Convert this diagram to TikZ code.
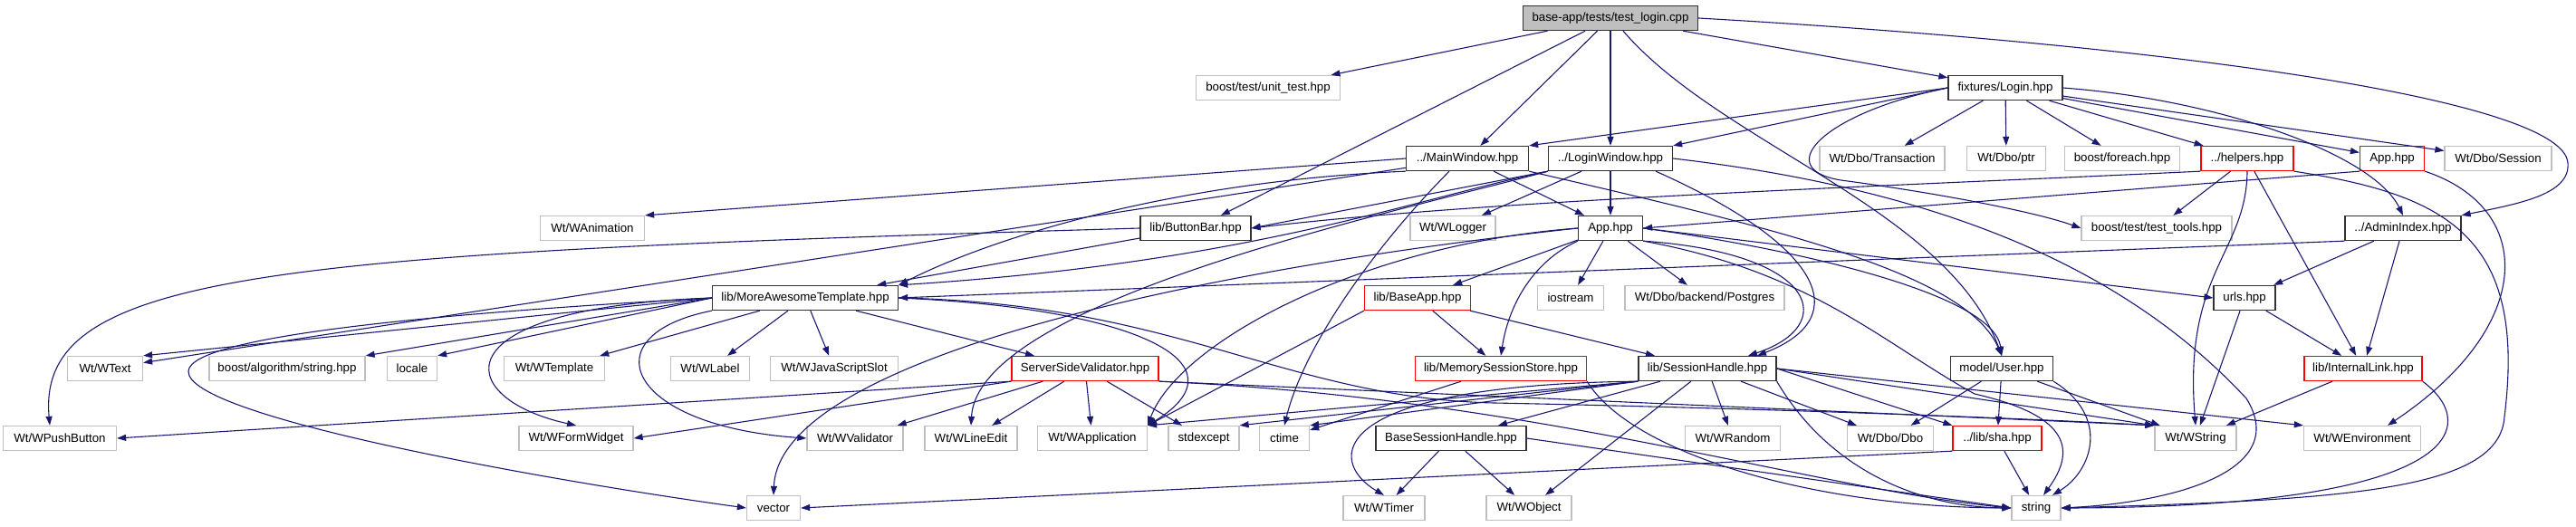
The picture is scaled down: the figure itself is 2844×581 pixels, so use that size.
\documentclass[tikz,border=0pt]{standalone}
\usepackage{fontspec}
\setmainfont{Liberation Sans}
\usetikzlibrary{arrows.meta}
\definecolor{navyline}{RGB}{25,25,112}
\definecolor{boxgrey}{RGB}{191,191,191}
\definecolor{darkbox}{RGB}{50,50,50}
\begin{document}
\begin{tikzpicture}[
x=1pt, y=-1pt,
box/.style={rectangle, draw, line width=1.3pt, minimum height=27pt, inner xsep=6pt, inner ysep=0pt, font=\fontsize{13.3}{15}\selectfont},
hdr/.style={box, draw=darkbox},
sys/.style={box, draw=boxgrey},
trunc/.style={box, draw=red},
rootfile/.style={box, draw=darkbox, fill=boxgrey},
dep/.style={draw=navyline, line width=1.1pt, -{Triangle[length=10pt,width=7pt]}}
]
\useasboundingbox (0,0) rectangle (2844,581);
% rows of the include graph
\node[rootfile, minimum width=193pt] (root) at (1778,20) {base-app/tests/test\_login.cpp};
\node[sys, minimum width=159pt] (unittest) at (1400,97) {boost/test/unit\_test.hpp};
\node[hdr, minimum width=126pt] (login) at (2214,97) {fixtures/Login.hpp};
\node[hdr, minimum width=135pt] (mainwin) at (1620,175) {../MainWindow.hpp};
\node[hdr, minimum width=137pt] (loginwin) at (1778,175) {../LoginWindow.hpp};
\node[sys, minimum width=138pt] (trans) at (2078,175) {Wt/Dbo/Transaction};
\node[sys, minimum width=87pt] (dboptr) at (2215,175) {Wt/Dbo/ptr};
\node[sys, minimum width=127pt] (foreach) at (2343,175) {boost/foreach.hpp};
\node[trunc, minimum width=102pt] (helpers) at (2481,175) {../helpers.hpp};
\node[trunc, minimum width=71pt] (appred) at (2641,175) {App.hpp};
\node[sys, minimum width=118pt] (dbosession) at (2758,175) {Wt/Dbo/Session};
\node[sys, minimum width=115pt] (wanim) at (654,252) {Wt/WAnimation};
\node[hdr, minimum width=122pt] (buttonbar) at (1320,252) {lib/ButtonBar.hpp};
\node[sys, minimum width=94pt] (wlogger) at (1604,252) {Wt/WLogger};
\node[hdr, minimum width=71pt] (app) at (1778,252) {App.hpp};
\node[sys, minimum width=166pt] (testtools) at (2381,252) {boost/test/test\_tools.hpp};
\node[hdr, minimum width=128pt] (adminidx) at (2653,252) {../AdminIndex.hpp};
\node[hdr, minimum width=205pt] (mat) at (889,329) {lib/MoreAwesomeTemplate.hpp};
\node[trunc, minimum width=117pt] (baseapp) at (1565,329) {lib/BaseApp.hpp};
\node[sys, minimum width=73pt] (iostream) at (1734,329) {iostream};
\node[sys, minimum width=176pt] (postgres) at (1882,329) {Wt/Dbo/backend/Postgres};
\node[hdr, minimum width=68pt] (urls) at (2478,329) {urls.hpp};
\node[sys, minimum width=83pt] (wtext) at (116,407) {Wt/WText};
\node[sys, minimum width=172pt] (algostr) at (317,407) {boost/algorithm/string.hpp};
\node[sys, minimum width=55pt] (locale) at (455,407) {locale};
\node[sys, minimum width=111pt] (wtemplate) at (612,407) {Wt/WTemplate};
\node[sys, minimum width=87pt] (wlabel) at (784,407) {Wt/WLabel};
\node[sys, minimum width=141pt] (wjsslot) at (921,407) {Wt/WJavaScriptSlot};
\node[trunc, minimum width=162pt] (ssv) at (1198,407) {ServerSideValidator.hpp};
\node[trunc, minimum width=189pt] (memstore) at (1657,407) {lib/MemorySessionStore.hpp};
\node[hdr, minimum width=152pt] (sesshandle) at (1885,407) {lib/SessionHandle.hpp};
\node[hdr, minimum width=113pt] (user) at (2210,407) {model/User.hpp};
\node[trunc, minimum width=130pt] (internallink) at (2609,407) {lib/InternalLink.hpp};
\node[sys, minimum width=125pt] (pushbtn) at (66,484) {Wt/WPushButton};
\node[sys, minimum width=126pt] (formwidget) at (636,484) {Wt/WFormWidget};
\node[sys, minimum width=106pt] (wvalidator) at (944,484) {Wt/WValidator};
\node[sys, minimum width=102pt] (lineedit) at (1072,484) {Wt/WLineEdit};
\node[sys, minimum width=121pt] (wapp) at (1206,484) {Wt/WApplication};
\node[sys, minimum width=78pt] (stdexcept) at (1329,484) {stdexcept};
\node[sys, minimum width=55pt] (ctime) at (1418,484) {ctime};
\node[hdr, minimum width=166pt] (basesess) at (1602,484) {BaseSessionHandle.hpp};
\node[sys, minimum width=105pt] (wrandom) at (1913,484) {Wt/WRandom};
\node[sys, minimum width=95pt] (dbodbo) at (2087,484) {Wt/Dbo/Dbo};
\node[trunc, minimum width=98pt] (sha) at (2205,484) {../lib/sha.hpp};
\node[sys, minimum width=90pt] (wstring) at (2424,484) {Wt/WString};
\node[sys, minimum width=129pt] (wenv) at (2608,484) {Wt/WEnvironment};
\node[sys, minimum width=59pt] (vector) at (854,561) {vector};
\node[sys, minimum width=90pt] (wtimer) at (1528,561) {Wt/WTimer};
\node[sys, minimum width=94pt] (wobject) at (1688,561) {Wt/WObject};
\node[sys, minimum width=54pt] (string) at (2248,561) {string};

% test_login.cpp
\draw[dep] (root) -- (unittest);
\draw[dep] (root) -- (buttonbar);
\draw[dep] (root) -- (mainwin);
\draw[dep] (root) -- (loginwin);
\draw[dep] (root) -- (login);
\draw[dep] ([xshift=14pt]root.south) .. controls (1900,160) and (2150,230) .. (user.north);
\draw[dep] (root.east) .. controls (2400,50) and (2830,110) .. (2835,180) .. controls (2838,215) and (2780,225) .. (adminidx.north east);

% fixtures/Login.hpp
\draw[dep] (login.west) -- (mainwin.north east);
\draw[dep] (login.west) -- (loginwin.north east);
\draw[dep] (login) -- (trans);
\draw[dep] (login) -- (dboptr);
\draw[dep] (login) -- (foreach);
\draw[dep] (login) -- (helpers);
\draw[dep] (login) -- (appred);
\draw[dep] (login) -- (dbosession);
\draw[dep] (login.east) .. controls (2450,110) and (2620,170) .. (adminidx.north);
\draw[dep] (login.west) .. controls (2010,125) and (1950,190) .. (2040,200) .. controls (2150,215) and (2250,235) .. (testtools.west);

% windows
\draw[dep] (mainwin.west) -- (wanim.north east);
\draw[dep] (mainwin) -- (wtext);
\draw[dep] (mainwin.south west) .. controls (1300,200) and (1100,260) .. (mat.north east);
\draw[dep] (mainwin) -- (app);
\draw[dep] ([xshift=-20pt]mainwin.south) .. controls (1520,270) and (1440,380) .. (ctime.north);
\draw[dep] (mainwin.south east) .. controls (1950,250) and (2170,300) .. (user.north);
\draw[dep] (loginwin.south west) -- (buttonbar.east);
\draw[dep] (loginwin) -- (wlogger);
\draw[dep] (loginwin) -- (app);
\draw[dep] (loginwin.south west) .. controls (1560,220) and (1380,290) .. (mat.north east);
\draw[dep] (loginwin.south west) .. controls (1560,230) and (1080,330) .. (lineedit.north);
\draw[dep] ([xshift=50pt]loginwin.south) .. controls (2010,270) and (2050,350) .. ([xshift=55pt]sesshandle.north);
\draw[dep] (loginwin.east) .. controls (2150,210) and (2350,300) .. (2480,440) .. controls (2530,520) and (2400,555) .. (string.east);

% helpers and red App.hpp
\draw[dep] (helpers.south west) .. controls (2100,205) and (1650,220) .. (buttonbar.east);
\draw[dep] (helpers) -- (testtools);
\draw[dep] (helpers.south) .. controls (2480,280) and (2410,300) .. (wstring.north);
\draw[dep] (helpers) -- (internallink);
\draw[dep] (helpers.south east) .. controls (2700,215) and (2790,260) .. (2765,460) .. controls (2760,540) and (2600,552) .. (string.east);
\draw[dep] (appred.south west) -- (app.east);
\draw[dep] (appred.south east) .. controls (2800,230) and (2800,360) .. ([xshift=28pt]wenv.north);

% AdminIndex and App
\draw[dep] (adminidx.south west) -- (mat.east);
\draw[dep] (adminidx) -- (urls);
\draw[dep] (adminidx) -- (internallink);
\draw[dep] (app) -- (baseapp);
\draw[dep] (app) -- (iostream);
\draw[dep] (app) -- (postgres);
\draw[dep] (app.east) -- (urls.west);
\draw[dep] (app.south west) .. controls (1690,290) and (1665,340) .. (memstore.north);
\draw[dep] (app.west) .. controls (1500,270) and (1300,380) .. (wapp.north east);
\draw[dep] (app.west) .. controls (1300,300) and (860,400) .. (vector.north);
\draw[dep] (app.south east) .. controls (2010,280) and (2030,360) .. ([xshift=45pt]sesshandle.north);
\draw[dep] (app.east) .. controls (1950,270) and (2200,320) .. (user.north);
\draw[dep] (app.south east) .. controls (2000,300) and (2080,380) .. (2180,435) .. controls (2290,460) and (2290,500) .. ([xshift=8pt]string.north);
\draw[dep] (baseapp) -- (memstore);
\draw[dep] (baseapp) -- (sesshandle);
\draw[dep] (baseapp.south west) -- (wapp.north east);
\draw[dep] (urls) -- (internallink);
\draw[dep] (urls) -- (wstring);
\draw[dep] (buttonbar.west) .. controls (300,280) and (40,300) .. ([xshift=-11pt]pushbtn.north);
\draw[dep] (buttonbar) -- (mat);

% lib/MoreAwesomeTemplate.hpp
\draw[dep] (mat.west) -- (wtext.north east);
\draw[dep] (mat.west) -- (algostr.north east);
\draw[dep] (mat.west) -- (locale.north east);
\draw[dep] (mat) -- (wtemplate);
\draw[dep] (mat.west) .. controls (480,340) and (500,440) .. (formwidget.north);
\draw[dep] (mat.south west) .. controls (650,370) and (690,470) .. (wvalidator.west);
\draw[dep] (mat) -- (wlabel);
\draw[dep] (mat) -- (wjsslot);
\draw[dep] (mat) -- (ssv);
\draw[dep] (mat.east) .. controls (1250,340) and (1380,400) .. (wapp.north east);
\draw[dep] (mat.west) .. controls (500,345) and (210,370) .. (208,410) .. controls (206,460) and (600,530) .. (vector.west);
\draw[dep] (mat.east) .. controls (1300,335) and (1420,440) .. (1650,445) .. controls (1900,450) and (2200,460) .. (wstring.north west);

% ServerSideValidator.hpp
\draw[dep] (ssv.south west) -- (pushbtn.east);
\draw[dep] (ssv.south west) -- (formwidget.east);
\draw[dep] (ssv) -- (wvalidator);
\draw[dep] (ssv) -- (lineedit);
\draw[dep] (ssv) -- (wapp);
\draw[dep] (ssv) -- (stdexcept);
\draw[dep] (ssv.south east) -- (wstring.north west);
\draw[dep] (ssv.south east) .. controls (1700,440) and (2000,540) .. (string.west);

% session classes
\draw[dep] (memstore) -- (ctime);
\draw[dep] (memstore.south east) .. controls (1800,500) and (2000,560) .. (string.west);
\draw[dep] (sesshandle) -- (basesess);
\draw[dep] (sesshandle) -- (wrandom);
\draw[dep] (sesshandle) -- (dbodbo);
\draw[dep] (sesshandle.east) -- (sha.north west);
\draw[dep] (sesshandle.east) -- (wstring.north west);
\draw[dep] (sesshandle.east) -- (wenv.north west);
\draw[dep] (sesshandle.south west) -- (ctime.north east);
\draw[dep] (sesshandle.south west) -- (stdexcept.north east);
\draw[dep] (sesshandle.south west) -- (wapp.north east);
\draw[dep] (sesshandle.south west) .. controls (1460,425) and (1465,510) .. (wtimer.north);
\draw[dep] (sesshandle) -- (wobject);
\draw[dep] (sesshandle.south east) .. controls (2020,520) and (2120,560) .. (string.west);
\draw[dep] (basesess) -- (wtimer);
\draw[dep] (basesess) -- (wobject);
\draw[dep] (basesess.east) -- (string.west);

% model/User.hpp, sha, InternalLink
\draw[dep] (user) -- (dbodbo);
\draw[dep] (user) -- (sha);
\draw[dep] (user) -- (wstring);
\draw[dep] (user.south east) .. controls (2330,460) and (2310,520) .. ([xshift=18pt]string.north);
\draw[dep] (sha) -- (string);
\draw[dep] (sha.south west) -- (vector.east);
\draw[dep] (internallink) -- (wstring);
\draw[dep] (internallink.south east) .. controls (2740,470) and (2720,560) .. (string.east);
\end{tikzpicture}
\end{document}
